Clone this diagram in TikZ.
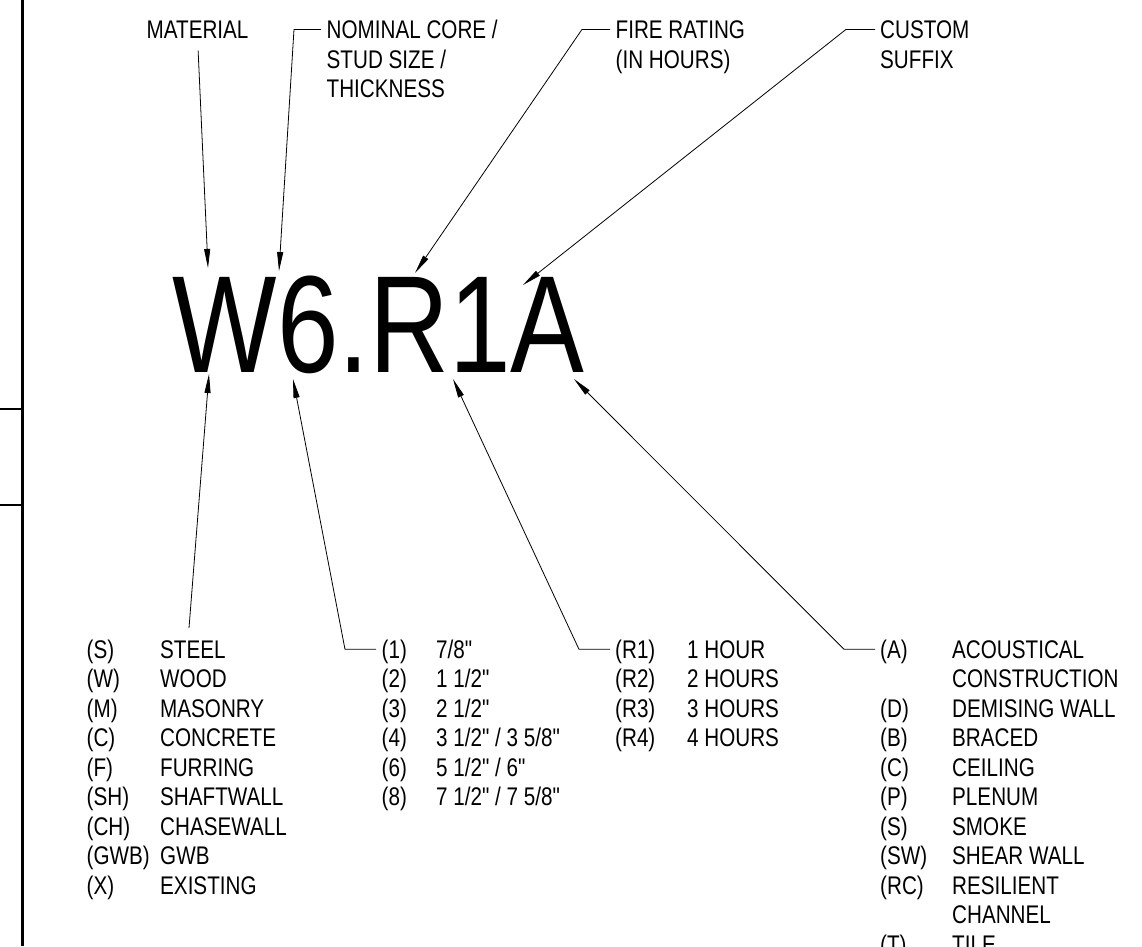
\documentclass[tikz,border=0pt]{standalone}
\usepackage{fontspec}
\setmainfont{Liberation Sans}[FakeStretch=0.81, Ligatures=TeXOff]
\newfontfamily\tagfont{Liberation Sans}[FakeStretch=0.8]
\usetikzlibrary{arrows.meta}
\tikzset{
  labelstyle/.style={anchor=base west, inner sep=0pt,
    font=\fontsize{25.5}{29.5}\selectfont},
  leaderstyle/.style={line width=0.8pt, black},
  arrowstyle/.style={leaderstyle, -{Triangle[length=19pt,width=6pt]}},
  tipstyle/.style={leaderstyle, {Triangle[length=19pt,width=6pt]}-}
}
% lines stacked from the first baseline down
\newcommand{\rowstack}[1]{\vtop{\let\\\cr\halign{##\hfil\cr#1\crcr}}}

\begin{document}
\begin{tikzpicture}[x=1pt,y=-1pt]
  \useasboundingbox (0,0) rectangle (1142,946);
  % sheet border
  \draw[line width=3pt] (22.3,0) -- (22.3,946);
  \draw[line width=1.5pt] (0,409) -- (22.3,409);
  \draw[line width=2.5pt] (0,505) -- (22.3,505);
  % wall tag
  \node[inner sep=0pt, anchor=base west, font=\tagfont\fontsize{138.3}{140}\selectfont] (tag) at (172.5,372) {W6.R1A};
  % labels above
  \node[labelstyle] (mat) at (146.5,38.5) {MATERIAL};
  \node[labelstyle] (nom) at (326.5,38.5) {\rowstack{NOMINAL CORE /\\STUD SIZE /\\THICKNESS}};
  \node[labelstyle] (fire) at (615.5,38.5) {\rowstack{FIRE RATING\\(IN HOURS)}};
  \node[labelstyle] (cust) at (880,38.5) {\rowstack{CUSTOM\\SUFFIX}};
  % points on the tag
  \coordinate (t-mat) at (208,268);
  \coordinate (t-nom) at (279,271);
  \coordinate (t-fire) at (415,273);
  \coordinate (t-cust) at (523,285);
  \coordinate (b-mat) at (209,374);
  \coordinate (b-size) at (293,379);
  \coordinate (b-fire) at (453,379);
  \coordinate (b-cust) at (574,379);
  \coordinate (e-mat) at (189,628);
  \draw[arrowstyle, shorten <=12pt] (mat.south) -- (t-mat);
  \draw[arrowstyle] ([xshift=-5.5pt,yshift=9.1pt]nom.base west) -- ([xshift=-32.5pt,yshift=9.1pt]nom.base west) -- (t-nom);
  \draw[arrowstyle] ([xshift=-5.5pt,yshift=9.1pt]fire.base west) -- ([xshift=-33.5pt,yshift=9.1pt]fire.base west) -- (t-fire);
  \draw[arrowstyle] ([xshift=-5pt,yshift=9.1pt]cust.base west) -- ([xshift=-34pt,yshift=9.1pt]cust.base west) -- (t-cust);
  % legend
  \node[labelstyle] (matcode) at (86.5,658.4) {\rowstack{(S)\\(W)\\(M)\\(C)\\(F)\\(SH)\\(CH)\\(GWB)\\(X)}};
  \node[labelstyle] (matname) at (160,658.4) {\rowstack{STEEL\\WOOD\\MASONRY\\CONCRETE\\FURRING\\SHAFTWALL\\CHASEWALL\\GWB\\EXISTING}};
  \node[labelstyle] (sizecode) at (381.5,658.4) {\rowstack{(1)\\(2)\\(3)\\(4)\\(6)\\(8)}};
  \node[labelstyle] (sizeval) at (436,658.4) {\rowstack{7/8"\\1 1/2"\\2 1/2"\\3 1/2" / 3 5/8"\\5 1/2" / 6"\\7 1/2" / 7 5/8"}};
  \node[labelstyle] (firecode) at (615,658.4) {\rowstack{(R1)\\(R2)\\(R3)\\(R4)}};
  \node[labelstyle] (fireval) at (687,658.4) {\rowstack{1 HOUR\\2 HOURS\\3 HOURS\\4 HOURS}};
  \node[labelstyle] (custcode) at (880,658.4) {\rowstack{(A)\\ \\(D)\\(B)\\(C)\\(P)\\(S)\\(SW)\\(RC)\\ \\(T)}};
  \node[labelstyle] (custval) at (952,658.4) {\rowstack{ACOUSTICAL\\CONSTRUCTION\\DEMISING WALL\\BRACED\\CEILING\\PLENUM\\SMOKE\\SHEAR WALL\\RESILIENT\\CHANNEL\\TILE}};
  \draw[tipstyle] (b-mat) -- (e-mat);
  \draw[tipstyle] (b-size) -- ([xshift=-36.5pt,yshift=9.1pt]sizecode.base west) -- ([xshift=-5.5pt,yshift=9.1pt]sizecode.base west);
  \draw[tipstyle] (b-fire) -- ([xshift=-36pt,yshift=9.1pt]firecode.base west) -- ([xshift=-5pt,yshift=9.1pt]firecode.base west);
  \draw[tipstyle] (b-cust) -- ([xshift=-36pt,yshift=9.1pt]custcode.base west) -- ([xshift=-5pt,yshift=9.1pt]custcode.base west);
\end{tikzpicture}
\end{document}
